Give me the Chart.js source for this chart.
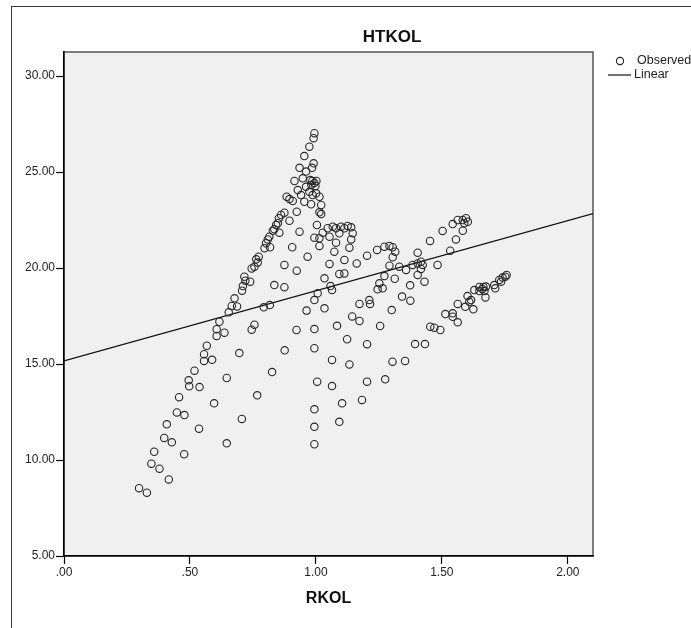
<!DOCTYPE html>
<html>
<head>
<meta charset="utf-8">
<script src="https://cdn.jsdelivr.net/npm/chart.js@4/dist/chart.umd.min.js"></script>
<style>
  html, body { margin: 0; padding: 0; background: #fff; }
  canvas { display: block; }
</style>
</head>
<body>
<canvas id="chart" width="691" height="628"></canvas>
<script>
// values
const chartTitle = "HTKOL";
const xTitle = "RKOL";
const xRange = [0, 2.1];
const yRange = [5, 31.25];
const xTicks = [0, 0.5, 1, 1.5, 2];
const xTickLabels = [".00", ".50", "1.00", "1.50", "2.00"];
const yTicks = [5, 10, 15, 20, 25, 30];
const yTickLabels = ["5.00", "10.00", "15.00", "20.00", "25.00", "30.00"];
const legendLabels = ["Observed", "Linear"];

const rkol = [
  0.298, 0.329, 0.416, 0.347, 0.379, 0.358, 0.477, 0.398, 0.428, 0.646,
  0.408, 0.536, 0.706, 0.448, 0.478, 0.596, 0.457, 0.767, 0.497, 0.538,
  0.495, 0.518, 0.646, 0.826, 0.556, 0.588, 0.556, 0.567, 0.696, 0.876,
  0.606, 0.637, 0.606, 0.617, 0.745, 0.756, 0.923, 0.654, 0.666, 0.687,
  0.677, 0.707, 0.793, 0.817, 0.710, 0.716, 0.720, 0.739, 0.835, 0.875,
  0.745, 0.756, 0.875, 0.924, 0.773, 0.763, 0.769, 0.967, 0.802, 0.818,
  0.796, 0.906, 0.815, 0.809, 0.829, 0.835, 0.855, 0.935, 0.842, 0.849,
  0.853, 0.895, 0.862, 0.875, 0.924, 0.994, 0.991, 0.974, 0.954, 0.991,
  0.985, 0.935, 0.961, 0.915, 0.948, 0.978, 0.986, 0.994, 1.002, 0.982,
  0.998, 0.961, 0.928, 0.941, 0.974, 0.987, 1.001, 1.014, 0.884, 0.895,
  0.908, 0.954, 0.981, 1.021, 1.014, 1.021, 1.004, 1.027, 0.994, 1.014,
  1.014, 1.054, 1.047, 1.067, 1.080, 1.100, 1.093, 1.113, 1.126, 1.140,
  1.146, 1.140, 1.080, 1.073, 1.133, 1.113, 1.054, 1.162, 1.203, 1.243,
  1.272, 1.292, 1.305, 1.315, 1.305, 1.292, 1.034, 1.093, 1.113, 1.058,
  1.064, 1.007, 0.994, 0.963, 1.034, 0.994, 0.994, 1.005, 0.994, 0.994,
  0.994, 1.064, 1.064, 1.104, 1.093, 1.084, 1.124, 1.133, 1.203, 1.183,
  1.275, 1.144, 1.173, 1.173, 1.212, 1.215, 1.203, 1.255, 1.301, 1.304,
  1.354, 1.394, 1.433, 1.252, 1.265, 1.245, 1.272, 1.313, 1.342, 1.375,
  1.374, 1.331, 1.358, 1.384, 1.404, 1.417, 1.417, 1.404, 1.431, 1.404,
  1.453, 1.483, 1.503, 1.543, 1.556, 1.533, 1.563, 1.596, 1.583, 1.603,
  1.589, 1.583, 1.424, 1.757, 1.752, 1.741, 1.728, 1.735, 1.708, 1.712,
  1.675, 1.649, 1.661, 1.669, 1.649, 1.665, 1.673, 1.629, 1.602, 1.616,
  1.609, 1.625, 1.593, 1.563, 1.543, 1.543, 1.514, 1.563, 1.454, 1.470,
  1.494
];

const htkol = [
  8.53, 8.30, 8.99, 9.81, 9.55, 10.43, 10.30, 11.15, 10.92, 10.87,
  11.86, 11.63, 12.14, 12.48, 12.34, 12.95, 13.27, 13.37, 13.84, 13.80,
  14.15, 14.65, 14.27, 14.58, 15.16, 15.22, 15.51, 15.95, 15.57, 15.71,
  16.46, 16.63, 16.81, 17.20, 16.79, 17.05, 16.77, 17.69, 18.02, 18.00,
  18.42, 18.82, 17.95, 18.07, 19.06, 19.55, 19.34, 19.29, 19.11, 19.00,
  19.98, 20.07, 20.16, 19.86, 20.59, 20.45, 20.28, 20.59, 21.29, 21.08,
  21.03, 21.08, 21.63, 21.49, 21.94, 22.02, 21.84, 21.89, 22.24, 22.33,
  22.59, 22.46, 22.76, 22.88, 22.93, 27.02, 26.76, 26.32, 25.83, 25.45,
  25.22, 25.22, 25.02, 24.53, 24.67, 24.58, 24.53, 24.43, 24.53, 24.32,
  24.27, 24.23, 24.06, 23.80, 23.97, 23.80, 23.89, 23.71, 23.71, 23.59,
  23.49, 23.45, 23.32, 23.28, 22.90, 22.81, 22.24, 21.84, 21.58, 21.55,
  21.15, 21.63, 22.07, 22.15, 22.07, 22.15, 21.81, 22.07, 22.19, 22.12,
  21.81, 21.49, 21.32, 20.85, 21.06, 20.42, 20.21, 20.24, 20.64, 20.94,
  21.11, 21.15, 21.08, 20.85, 20.56, 20.12, 19.46, 19.69, 19.72, 19.06,
  18.85, 18.68, 18.33, 17.78, 17.90, 16.82, 15.82, 14.08, 12.64, 11.73,
  10.82, 15.21, 13.85, 12.95, 11.99, 16.99, 16.29, 14.98, 14.08, 13.13,
  14.20, 17.48, 17.24, 18.13, 18.33, 18.13, 16.03, 16.98, 17.81, 15.12,
  15.16, 16.04, 16.04, 19.20, 18.94, 18.89, 19.58, 19.44, 18.51, 18.30,
  19.10, 20.07, 19.90, 20.16, 20.24, 20.33, 19.95, 19.64, 19.29, 20.80,
  21.41, 20.16, 21.93, 22.29, 21.49, 20.90, 22.50, 22.59, 22.50, 22.41,
  22.33, 21.94, 20.16, 19.64, 19.55, 19.50, 19.38, 19.29, 19.11, 18.94,
  19.03, 19.01, 18.91, 18.80, 18.80, 19.01, 18.47, 18.85, 18.54, 18.33,
  18.24, 17.85, 17.98, 18.13, 17.64, 17.46, 17.60, 17.17, 16.94, 16.89,
  16.77
];

// fitted linear line, ends read at the left and right plot edges
const linearX = [0, 2.1];
const linearY = [15.16, 22.83];

const FONT = "'Liberation Sans', Arial, sans-serif";

const framePlugin = {
  id: "frame",
  beforeDraw(chart) {
    const { ctx, chartArea: a } = chart;
    ctx.save();
    ctx.fillStyle = "#fff";
    ctx.fillRect(0, 0, chart.width, chart.height);
    ctx.strokeStyle = "#3a3a3a";
    ctx.lineWidth = 1;
    ctx.strokeRect(11.5, 6.5, 1000, 1000);
    ctx.fillStyle = "#f0f0f0";
    ctx.fillRect(a.left, a.top, a.right - a.left, a.bottom - a.top);
    ctx.strokeStyle = "#555";
    ctx.lineWidth = 1.5;
    ctx.strokeRect(a.left, a.top, a.right - a.left, a.bottom - a.top);
    ctx.restore();
  },
  afterDraw(chart) {
    const { ctx } = chart;
    ctx.save();
    ctx.fillStyle = "#111";
    ctx.font = "bold 17px " + FONT;
    ctx.textAlign = "center";
    ctx.textBaseline = "middle";
    ctx.fillText(chartTitle, 392, 37);

    // legend, cut by the right edge like the original export
    ctx.strokeStyle = "#222";
    ctx.lineWidth = 1.1;
    ctx.beginPath();
    ctx.arc(620, 61, 3.6, 0, Math.PI * 2);
    ctx.stroke();
    ctx.lineWidth = 1.3;
    ctx.beginPath();
    ctx.moveTo(608, 75);
    ctx.lineTo(631, 75);
    ctx.stroke();
    ctx.font = "12.5px " + FONT;
    ctx.textAlign = "left";
    ctx.fillStyle = "#222";
    ctx.fillText(legendLabels[0], 637, 61);
    ctx.fillText(legendLabels[1], 634, 75);
    ctx.restore();
  },
};

const axisCommon = {
  type: "linear",
  grid: {
    drawOnChartArea: false,
    drawTicks: true,
    tickLength: 8,
    tickColor: "#000",
    tickWidth: 1.2,
  },
  border: { display: true, color: "#000", width: 1.5 },
};

new Chart(document.getElementById("chart"), {
  type: "scatter",
  data: {
    datasets: [
      {
        label: legendLabels[0],
        data: rkol.map((x, i) => ({ x, y: htkol[i] })),
        pointStyle: "circle",
        pointRadius: 3.7,
        borderWidth: 1.1,
        borderColor: "#262626",
        backgroundColor: "rgba(0,0,0,0)",
      },
      {
        label: legendLabels[1],
        type: "line",
        data: linearX.map((x, i) => ({ x, y: linearY[i] })),
        borderColor: "#111",
        borderWidth: 1.3,
        pointRadius: 0,
        fill: false,
      },
    ],
  },
  options: {
    responsive: false,
    animation: false,
    events: [],
    layout: { padding: { left: 0, top: 52, right: 98, bottom: 20 } },
    plugins: {
      legend: { display: false },
      title: { display: false },
      tooltip: { enabled: false },
    },
    scales: {
      x: {
        ...axisCommon,
        position: "bottom",
        min: xRange[0],
        max: xRange[1],
        afterBuildTicks: (s) => { s.ticks = xTicks.map((v) => ({ value: v })); },
        afterFit: (s) => { s.height = 52; },
        ticks: {
          autoSkip: false,
          maxRotation: 0,
          padding: 1,
          color: "#222",
          font: { family: FONT, size: 12 },
          callback: (v, i) => xTickLabels[i],
        },
        title: {
          display: true,
          text: xTitle,
          color: "#111",
          font: { family: FONT, size: 16, weight: "bold" },
          padding: 0,
        },
      },
      y: {
        ...axisCommon,
        position: "left",
        min: yRange[0],
        max: yRange[1],
        afterBuildTicks: (s) => { s.ticks = yTicks.map((v) => ({ value: v })); },
        afterFit: (s) => { s.width = 64; },
        ticks: {
          autoSkip: false,
          padding: 1,
          color: "#222",
          font: { family: FONT, size: 12 },
          callback: (v, i) => yTickLabels[i],
        },
      },
    },
  },
  plugins: [framePlugin],
});
</script>
</body>
</html>
